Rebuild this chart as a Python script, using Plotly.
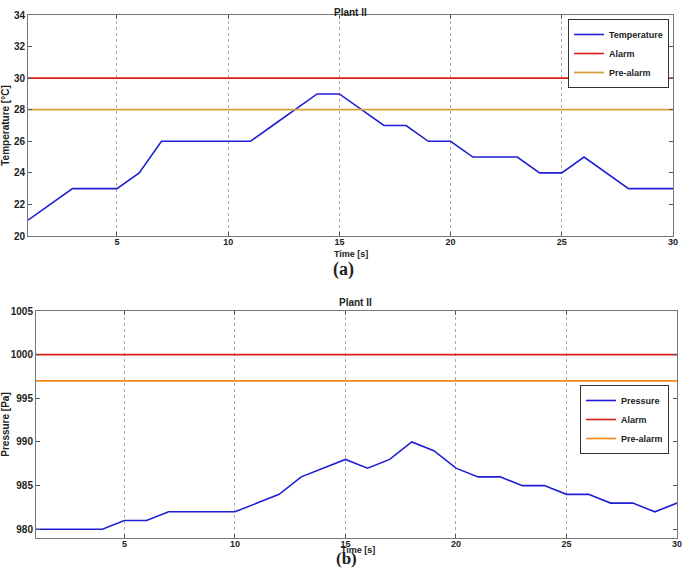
import plotly.graph_objects as go

time = list(range(1, 31))
temperature = [21, 22, 23, 23, 23, 24, 26, 26, 26, 26, 26, 27, 28, 29, 29,
               28, 27, 27, 26, 26, 25, 25, 25, 24, 24, 25, 24, 23, 23, 23]
temp_alarm = 30
temp_prealarm = 28

pressure = [980, 980, 980, 980, 981, 981, 982, 982, 982, 982, 983, 984, 986, 987, 988,
            987, 988, 990, 989, 987, 986, 986, 985, 985, 984, 984, 983, 983, 982, 983]
press_alarm = 1000
press_prealarm = 997

x_ticks = [5, 10, 15, 20, 25, 30]
temp_ticks = [20, 22, 24, 26, 28, 30, 32, 34]
press_ticks = [980, 985, 990, 995, 1000, 1005]

W, H = 685, 578
BLUE = "#1f1fd6"
RED = "#dd1c1c"
GOLD = "#d4a03c"
ORANGE = "#f08a10"
FONT = "Liberation Sans Narrow, Liberation Sans, Arial"

fig = go.Figure()

fig.add_trace(go.Scatter(x=time, y=temperature, mode="lines", name="Temperature",
                         line=dict(color=BLUE, width=1.6), xaxis="x", yaxis="y", legend="legend"))
fig.add_trace(go.Scatter(x=[time[0], time[-1]], y=[temp_alarm, temp_alarm], mode="lines", name="Alarm",
                         line=dict(color=RED, width=1.6), xaxis="x", yaxis="y", legend="legend"))
fig.add_trace(go.Scatter(x=[time[0], time[-1]], y=[temp_prealarm, temp_prealarm], mode="lines", name="Pre-alarm",
                         line=dict(color=GOLD, width=1.8), xaxis="x", yaxis="y", legend="legend"))

fig.add_trace(go.Scatter(x=time, y=pressure, mode="lines", name="Pressure",
                         line=dict(color=BLUE, width=1.6), xaxis="x2", yaxis="y2", legend="legend2"))
fig.add_trace(go.Scatter(x=[time[0], time[-1]], y=[press_alarm, press_alarm], mode="lines", name="Alarm",
                         line=dict(color=RED, width=1.6), xaxis="x2", yaxis="y2", legend="legend2"))
fig.add_trace(go.Scatter(x=[time[0], time[-1]], y=[press_prealarm, press_prealarm], mode="lines", name="Pre-alarm",
                         line=dict(color=ORANGE, width=1.6), xaxis="x2", yaxis="y2", legend="legend2"))

tickfont = dict(family=FONT, size=10, color="#222", weight="bold")
xtickfont = dict(family=FONT, size=9, color="#222", weight="bold")
titlefont = dict(family=FONT, size=10, color="#222", weight="bold")

def xaxis(domain, anchor):
    return dict(domain=domain, anchor=anchor, range=[1, 30], tickvals=x_ticks,
                ticks="inside", ticklen=4, tickcolor="#555", mirror="allticks",
                showline=True, linecolor="#777", linewidth=1,
                showgrid=True, gridcolor="#aaa", griddash="dot", gridwidth=1,
                zeroline=False, tickfont=xtickfont, automargin=False,
                ticklabelstandoff=-3)

def yaxis(domain, anchor, rng, tv, title):
    return dict(domain=domain, anchor=anchor, range=rng, tickvals=tv,
                ticks="inside", ticklen=4, tickcolor="#555", mirror="allticks",
                showline=True, linecolor="#777", linewidth=1,
                showgrid=False, zeroline=False, tickfont=tickfont, automargin=False,
                title=dict(text=title, font=titlefont, standoff=2))

legfont = dict(family=FONT, size=9, color="#222", weight="bold")

fig.update_layout(
    width=W, height=H, margin=dict(l=0, r=0, t=0, b=0, autoexpand=False),
    paper_bgcolor="white", plot_bgcolor="white",
    font=dict(family=FONT, size=10, color="#222"),
    xaxis=xaxis([28 / W, 673 / W], "y"),
    yaxis=yaxis([(H - 236) / H, (H - 15) / H], "x", [20, 34], temp_ticks, "Temperature [°C]"),
    xaxis2=xaxis([36 / W, 677 / W], "y2"),
    yaxis2=yaxis([(H - 538) / H, (H - 311) / H], "x2", [979, 1005], press_ticks, "Pressure [Pa]"),
    legend=dict(x=669 / W, y=(H - 19) / H, xanchor="right", yanchor="top",
                bgcolor="white", bordercolor="#333", borderwidth=1,
                font=legfont, tracegroupgap=0, itemwidth=30),
    legend2=dict(x=669 / W, y=(H - 385) / H, xanchor="right", yanchor="top",
                 bgcolor="white", bordercolor="#333", borderwidth=1,
                 font=legfont, tracegroupgap=0, itemwidth=30),
    showlegend=True,
)

def note(text, x, y, size=10, family=FONT):
    fig.add_annotation(text=text, x=x / W, y=(H - y) / H, xref="paper", yref="paper",
                       showarrow=False, font=dict(family=family, size=size, color="#222"))

note("<b>Plant II</b>", 350, 5)
note("<b>Plant II</b>", 355, 302)
note("<b>Time [s]</b>", 351, 254, 9)
note("<b>Time [s]</b>", 358, 557, 9)
note("<b>(a)</b>", 343, 269, 18, "Liberation Serif")
note("<b>(b)</b>", 346, 570, 17, "Liberation Serif")

fig.write_html("out.html", config={"displayModeBar": False},
               post_script="document.body.style.margin='0';document.body.style.overflow='hidden';")
